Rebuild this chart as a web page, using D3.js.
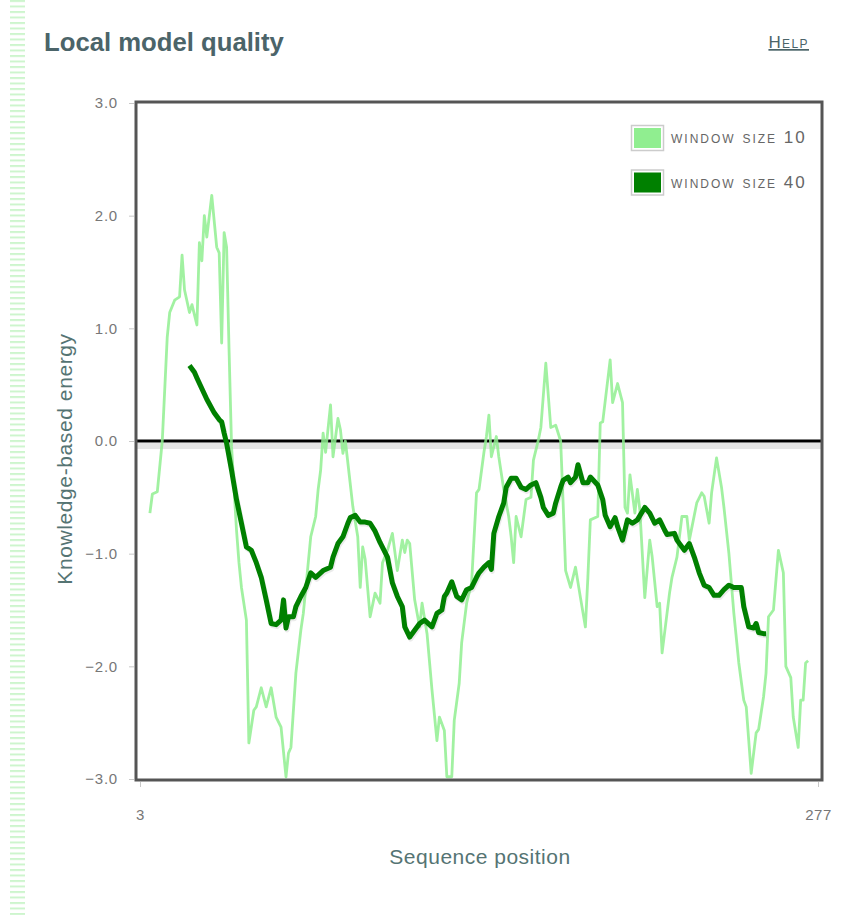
<!DOCTYPE html>
<html>
<head>
<meta charset="utf-8">
<script src="https://cdn.jsdelivr.net/npm/d3@7"></script>
<style>
  html, body { margin: 0; padding: 0; background: #fff; }
  svg { display: block; }
</style>
</head>
<body>
<svg id="chart" width="844" height="915"></svg>
<script>
// Local energy profile along the sequence, two smoothing windows
const seqStart = 3;
const seqEnd = 277;

const yTicks = [-3, -2, -1, 0, 1, 2, 3];
const xTicks = [3, 277];

// window size 10
const w10Pos = [7, 8, 10, 12, 14, 15, 17, 19, 20, 21, 23, 24, 26, 27, 28, 29, 30, 32, 34, 35, 36, 37, 38, 39, 40,
  42, 43, 44, 46, 47, 49, 50, 52, 54, 56, 58, 60, 62, 63, 64, 66, 68, 69, 71, 72, 74, 75, 76, 77, 78, 80, 81, 83, 84,
  85, 86, 89, 91, 92, 93, 94, 96, 98, 100, 101, 103, 105, 107, 109, 110, 111, 112, 114, 116, 117, 119, 121, 123, 124,
  126, 127, 129, 130, 132, 133, 135, 137, 139, 140, 142, 143, 144, 145, 147, 148, 150, 152, 153, 154, 155, 157, 159,
  161, 162, 164, 165, 167, 169, 171, 173, 174, 175, 177, 179, 181, 183, 184, 185, 188, 189, 190, 193, 194, 196, 198,
  199, 200, 201, 203, 204, 205, 207, 209, 210, 212, 213, 214, 217, 218, 220, 222, 224, 225, 228, 230, 231, 233, 234,
  236, 238, 239, 241, 243, 245, 247, 248, 250, 252, 253, 255, 256, 257, 259, 261, 263, 264, 266, 267, 269, 270, 271,
  272, 273];
const w10Val = [-0.64, -0.47, -0.45, 0.0, 0.92, 1.14, 1.25, 1.28, 1.65, 1.34, 1.14, 1.21, 1.03, 1.76, 1.6, 2.0, 1.81,
  2.18, 1.72, 1.67, 0.87, 1.85, 1.72, 0.8, -0.05, -0.79, -1.08, -1.3, -1.59, -2.68, -2.39, -2.36, -2.19, -2.36, -2.19,
  -2.45, -2.54, -2.98, -2.77, -2.72, -2.06, -1.68, -1.53, -1.08, -0.85, -0.67, -0.43, -0.26, 0.07, -0.1, 0.32, -0.14,
  0.2, 0.1, -0.11, 0.0, -0.58, -0.85, -1.3, -0.94, -1.05, -1.56, -1.35, -1.44, -1.08, -0.97, -0.82, -1.15, -0.88,
  -0.99, -0.88, -0.91, -1.41, -1.65, -1.44, -1.71, -2.21, -2.66, -2.45, -2.57, -2.98, -2.98, -2.48, -2.15, -1.79,
  -1.44, -1.26, -0.46, -0.43, -0.1, 0.04, 0.23, -0.14, 0.04, -0.14, -0.43, -0.67, -0.85, -1.08, -0.67, -0.85, -0.52,
  -0.5, -0.17, 0.01, 0.12, 0.69, 0.12, 0.14, 0.0, -0.55, -1.15, -1.3, -1.12, -1.39, -1.65, -1.21, -0.7, -0.67, 0.16,
  0.17, 0.72, 0.34, 0.51, 0.34, -0.59, -0.64, -0.3, -0.64, -0.43, -0.61, -1.39, -0.88, -1.03, -1.47, -1.44, -1.88,
  -1.35, -1.21, -1.03, -0.67, -0.67, -0.88, -0.55, -0.46, -0.49, -0.73, -0.46, -0.15, -0.41, -0.59, -1.0, -1.53,
  -1.97, -2.3, -2.36, -2.95, -2.59, -2.56, -2.27, -2.06, -1.56, -1.5, -0.97, -1.17, -2.0, -2.1, -2.45, -2.72, -2.3,
  -2.3, -1.97, -1.95];

// window size 40
const w40Pos = [23, 25, 26, 30, 33, 35, 36, 37, 38, 40, 42, 44, 46, 48, 50, 52, 54, 56, 58, 60, 61, 62, 63, 65, 66,
  68, 70, 72, 74, 75, 77, 80, 81, 83, 85, 87, 88, 90, 92, 94, 96, 98, 100, 103, 105, 107, 109, 110, 112, 114, 116,
  118, 121, 123, 125, 126, 127, 129, 131, 133, 135, 137, 139, 140, 142, 144, 145, 146, 148, 150, 151, 153, 155, 157,
  159, 161, 163, 165, 166, 168, 170, 171, 173, 174, 176, 177, 179, 180, 182, 184, 185, 188, 190, 191, 193, 195, 196,
  198, 200, 202, 204, 207, 209, 211, 213, 215, 216, 219, 220, 223, 225, 227, 229, 231, 233, 235, 237, 239, 241, 243,
  246, 247, 249, 251, 252, 253, 255, 256];
const w40Val = [0.67, 0.61, 0.56, 0.37, 0.25, 0.19, 0.17, 0.07, -0.02, -0.26, -0.52, -0.73, -0.94, -0.97, -1.08,
  -1.21, -1.41, -1.62, -1.63, -1.59, -1.41, -1.66, -1.56, -1.56, -1.47, -1.38, -1.3, -1.17, -1.21, -1.19, -1.15,
  -1.12, -1.03, -0.91, -0.85, -0.73, -0.68, -0.66, -0.72, -0.72, -0.73, -0.8, -0.9, -1.03, -1.26, -1.38, -1.47,
  -1.65, -1.74, -1.68, -1.62, -1.59, -1.65, -1.53, -1.5, -1.38, -1.35, -1.25, -1.38, -1.41, -1.32, -1.3, -1.21,
  -1.17, -1.12, -1.08, -1.14, -0.82, -0.67, -0.55, -0.41, -0.33, -0.33, -0.41, -0.43, -0.39, -0.37, -0.5, -0.59,
  -0.66, -0.64, -0.55, -0.41, -0.35, -0.32, -0.37, -0.32, -0.21, -0.37, -0.37, -0.32, -0.39, -0.52, -0.66, -0.76,
  -0.68, -0.76, -0.88, -0.7, -0.73, -0.7, -0.59, -0.64, -0.73, -0.7, -0.79, -0.83, -0.82, -0.88, -0.97, -0.91,
  -1.03, -1.17, -1.28, -1.3, -1.37, -1.37, -1.32, -1.28, -1.3, -1.3, -1.47, -1.65, -1.66, -1.62, -1.7, -1.71, -1.71];

const seriesNames = ["window size 10", "window size 40"];
const seriesColors = ["#90ee90", "#008000"];

const svg = d3.select("#chart");
const FONT = "'Liberation Sans', Arial, sans-serif";

// decorative striped margin on the left
const defs = svg.append("defs");
const pat = defs.append("pattern")
  .attr("id", "stripes").attr("patternUnits", "userSpaceOnUse")
  .attr("width", 16).attr("height", 5.5);
pat.append("rect").attr("x", 0).attr("y", 0).attr("width", 16).attr("height", 2).attr("fill", "#cdf5cd");
svg.append("rect").attr("x", 10).attr("y", 0).attr("width", 15).attr("height", 915).attr("fill", "url(#stripes)");

// heading
svg.append("text").attr("x", 44).attr("y", 51)
  .attr("font-family", FONT).attr("font-weight", "bold").attr("font-size", 25.7)
  .attr("fill", "#4b6469").text("Local model quality");

svg.append("text").attr("x", 809).attr("y", 48).attr("text-anchor", "end")
  .attr("font-family", FONT).attr("font-size", 17).attr("letter-spacing", 1.4).attr("font-variant", "small-caps")
  .attr("fill", "#4b6469").attr("text-decoration", "underline").text("Help");

// scales
const x = d3.scaleLinear().domain([seqStart, seqEnd]).range([140, 818]);
const y = d3.scaleLinear().domain([-3, 3]).range([779, 103]);
const pad = 4;
const frame = { x0: x.range()[0] - pad, x1: x.range()[1] + pad, y0: y.range()[1] - 1, y1: y.range()[0] + 1 };

defs.append("clipPath").attr("id", "plotclip").append("rect")
  .attr("x", frame.x0).attr("y", frame.y0)
  .attr("width", frame.x1 - frame.x0).attr("height", frame.y1 - frame.y0);

// y axis ticks and labels
const yAxis = d3.axisLeft(y).tickValues(yTicks).tickFormat(d3.format(".1f")).tickSize(5).tickPadding(11);
const gy = svg.append("g").attr("transform", `translate(${frame.x0 - 2},0)`).call(yAxis);
gy.select(".domain").remove();
gy.selectAll(".tick line").attr("stroke", "#c8c8c8");
gy.selectAll(".tick text").attr("font-family", FONT).attr("font-size", 15).attr("letter-spacing", 0.8).attr("fill", "#777");

// x axis ticks and labels
const xAxis = d3.axisBottom(x).tickValues(xTicks).tickFormat(d3.format("d")).tickSize(5).tickPadding(22);
const gx = svg.append("g").attr("transform", `translate(0,${frame.y1 + 2})`).call(xAxis);
gx.select(".domain").remove();
gx.selectAll(".tick line").attr("stroke", "#c8c8c8");
gx.selectAll(".tick text").attr("font-family", FONT).attr("font-size", 15).attr("letter-spacing", 0.5).attr("fill", "#777");

// axis titles
svg.append("text").attr("x", 480).attr("y", 864).attr("text-anchor", "middle")
  .attr("font-family", FONT).attr("font-size", 21).attr("letter-spacing", 0.5).attr("fill", "#557473").text("Sequence position");
svg.append("text").attr("transform", "translate(72,459) rotate(-90)").attr("text-anchor", "middle")
  .attr("font-family", FONT).attr("font-size", 21).attr("letter-spacing", 0.6).attr("fill", "#557473").text("Knowledge-based energy");

const plot = svg.append("g").attr("clip-path", "url(#plotclip)");

// zero reference line with soft shadow
plot.append("line").attr("x1", frame.x0).attr("x2", frame.x1)
  .attr("y1", y(0) + 5).attr("y2", y(0) + 5).attr("stroke", "#000").attr("stroke-opacity", 0.1).attr("stroke-width", 6);
plot.append("line").attr("x1", frame.x0).attr("x2", frame.x1)
  .attr("y1", y(0)).attr("y2", y(0)).attr("stroke", "#000").attr("stroke-width", 3);

const line = d3.line().x(d => x(d[0])).y(d => y(d[1]));
const w10 = w10Pos.map((p, i) => [p, w10Val[i]]);
const w40 = w40Pos.map((p, i) => [p, w40Val[i]]);

plot.append("path").datum(w10).attr("d", line).attr("fill", "none")
  .attr("stroke", seriesColors[0]).attr("stroke-opacity", 0.85).attr("stroke-width", 2.8).attr("stroke-linejoin", "round");
plot.append("path").datum(w40).attr("d", line).attr("fill", "none")
  .attr("stroke", "#000").attr("stroke-opacity", 0.08).attr("stroke-width", 5)
  .attr("transform", "translate(1,2)").attr("stroke-linejoin", "round");
plot.append("path").datum(w40).attr("d", line).attr("fill", "none")
  .attr("stroke", seriesColors[1]).attr("stroke-width", 5).attr("stroke-linejoin", "round");

// frame
svg.append("rect").attr("x", frame.x0).attr("y", frame.y0)
  .attr("width", frame.x1 - frame.x0).attr("height", frame.y1 - frame.y0)
  .attr("fill", "none").attr("stroke", "#555").attr("stroke-width", 3);

// legend
const legend = svg.append("g").attr("transform", "translate(631,125)");
seriesNames.forEach((name, i) => {
  const g = legend.append("g").attr("transform", `translate(0,${i * 44.5})`);
  g.append("rect").attr("x", 0.5).attr("y", 0.5).attr("width", 32).attr("height", 25)
    .attr("fill", "#fff").attr("stroke", "#ccc").attr("stroke-width", 1.5);
  g.append("rect").attr("x", 3).attr("y", 3).attr("width", 27).attr("height", 20).attr("fill", seriesColors[i]);
  g.append("text").attr("x", 40).attr("y", 18).attr("font-family", FONT).attr("font-size", 17)
    .attr("letter-spacing", 2).attr("font-variant", "small-caps").attr("fill", "#666").text(name);
});
</script>
</body>
</html>
